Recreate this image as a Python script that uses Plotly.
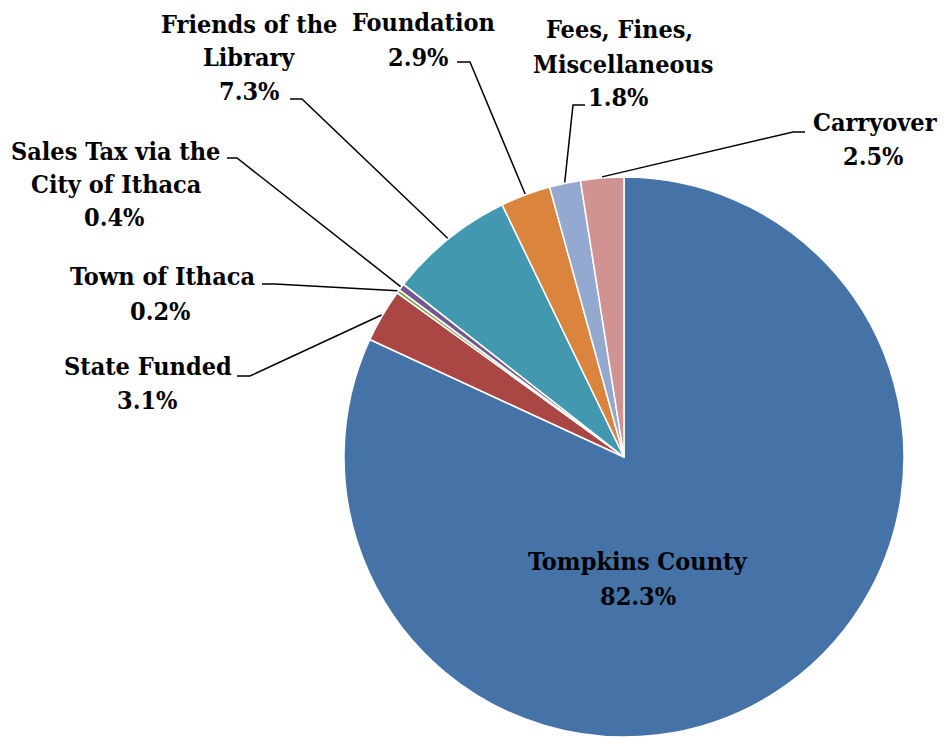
import math
import plotly.graph_objects as go

# ---------------- data ----------------
categories = ["Tompkins County", "State Funded", "Town of Ithaca",
              "Sales Tax via the City of Ithaca", "Friends of the Library",
              "Foundation", "Fees, Fines, Miscellaneous", "Carryover"]
values = [82.3, 3.1, 0.2, 0.4, 7.3, 2.9, 1.8, 2.5]
label_lines = [["Tompkins County"], ["State Funded"], ["Town of Ithaca"],
               ["Sales Tax via the", "City of Ithaca"], ["Friends of the", "Library"],
               ["Foundation"], ["Fees, Fines,", "Miscellaneous"], ["Carryover"]]
colors = ["#4572A7", "#AA4643", "#89A54E", "#71588F", "#4198AF",
          "#DB843D", "#93A9CF", "#D19392"]

# ---------------- layout (page pixels) ----------------
OFF = 8                     # default page body margin
W, H = 946 - OFF, 738 - OFF
PIE_L, PIE_R, PIE_T, PIE_B = 344, 904, 177, 737
cx, cy = (PIE_L + PIE_R) / 2, (PIE_T + PIE_B) / 2
R = (PIE_R - PIE_L) / 2 + 1

# centre of each text line (name lines followed by the percentage line)
text_pos = [
    [(637.5, 561), (637.5, 596)],
    [(147.5, 367), (147.5, 401)],
    [(162.5, 276), (160.5, 311)],
    [(115, 151), (116, 184), (114.5, 217.5)],
    [(249, 24), (249, 57), (249.5, 91)],
    [(423.5, 22), (418.5, 57)],
    [(619, 29), (622.5, 64.5), (618.5, 97)],
    [(875, 122.5), (873.5, 156)],
]
# leader line: label anchor point, stub end (None for no leader)
leaders = [
    None,
    ((237, 376), (250, 376)),
    ((262, 284), (275, 284)),
    ((227, 158), (237, 158)),
    ((290, 99), (302, 99)),
    ((457, 62), (470, 62)),
    ((585, 105), (573, 105)),
    ((805, 132), (793, 132)),
]

FONT = "DejaVu Serif Condensed"
FS = 25


def px(x):
    return (x - OFF) / W


def py(y):
    return 1 - (y - OFF) / H


fig = go.Figure(go.Pie(
    labels=categories, values=values, sort=False, direction="clockwise",
    rotation=0, textinfo="none", hoverinfo="label+percent",
    marker=dict(colors=colors, line=dict(color="white", width=1.5)),
    domain=dict(x=[px(PIE_L), px(PIE_R)], y=[py(PIE_B), py(PIE_T)]),
    showlegend=False,
))

total = sum(values)
cum = 0.0
annotations = []
shapes = []
for i, (cat, v) in enumerate(zip(categories, values)):
    mid = 2 * math.pi * (cum + v / 2) / total
    cum += v
    lines = label_lines[i] + [f"{v:.1f}%"]
    for (tx, ty), t in zip(text_pos[i], lines):
        annotations.append(dict(
            x=px(tx), y=py(ty), xref="paper", yref="paper", text=f"<b>{t}</b>",
            showarrow=False, xanchor="center", yanchor="middle",
            font=dict(family=FONT, size=FS, color="black")))
    if leaders[i] is not None:
        (ax, ay), (sx, sy) = leaders[i]
        ex = cx + R * math.sin(mid)
        ey = cy - R * math.cos(mid)
        path = f"M {px(ax)} {py(ay)} L {px(sx)} {py(sy)} L {px(ex)} {py(ey)}"
        shapes.append(dict(type="path", path=path, xref="paper", yref="paper",
                           line=dict(color="black", width=1.5)))

fig.update_layout(
    width=W, height=H, margin=dict(l=0, r=0, t=0, b=0),
    paper_bgcolor="white", plot_bgcolor="white",
    font=dict(family=FONT),
    annotations=annotations, shapes=shapes,
)

fig.write_html("out.html")
